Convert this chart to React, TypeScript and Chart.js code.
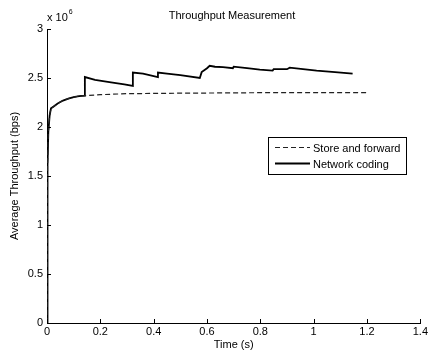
import React, { useEffect, useRef } from "react";
import { Chart, registerables } from "chart.js";

Chart.register(...registerables);

const TITLE = "Throughput Measurement";
const X_LABEL = "Time (s)";
const Y_LABEL = "Average Throughput (bps)";
const SERIES_NAMES = ["Store and forward", "Network coding"];

const NC_T = [0, 0.002, 0.005, 0.01, 0.015, 0.025, 0.04, 0.06, 0.08, 0.1, 0.12, 0.142, 0.142, 0.18, 0.24, 0.29, 0.322, 0.322, 0.36, 0.416, 0.416, 0.45, 0.5, 0.573, 0.58, 0.6, 0.61, 0.63, 0.66, 0.697, 0.7, 0.75, 0.798, 0.846, 0.85, 0.9, 0.91, 0.96, 1.011, 1.08, 1.146];
const NC_V = [0, 1.6, 1.95, 2.12, 2.19, 2.21, 2.24, 2.27, 2.29, 2.305, 2.315, 2.32, 2.51, 2.48, 2.455, 2.435, 2.42, 2.555, 2.545, 2.51, 2.555, 2.545, 2.53, 2.5, 2.56, 2.6, 2.625, 2.615, 2.61, 2.6, 2.615, 2.6, 2.585, 2.575, 2.59, 2.59, 2.605, 2.59, 2.575, 2.56, 2.545];

const SF_T = [0, 0.002, 0.005, 0.01, 0.015, 0.025, 0.04, 0.06, 0.08, 0.1, 0.12, 0.142, 0.2, 0.3, 0.5, 0.8, 1.0, 1.2];
const SF_V = [0, 1.6, 1.95, 2.12, 2.19, 2.21, 2.24, 2.27, 2.29, 2.305, 2.315, 2.32, 2.33, 2.34, 2.345, 2.35, 2.35, 2.35];

const SCALE = 1e6;
const FONT = "'Liberation Sans', Arial, sans-serif";

const toPts = (t: number[], v: number[]) => t.map((x, i) => ({ x, y: v[i] * SCALE }));

const matlabPlugin = {
  id: "matlab",
  beforeDraw(chart: any) {
    const ctx = chart.ctx;
    ctx.save();
    ctx.fillStyle = "#fff";
    ctx.fillRect(0, 0, chart.width, chart.height);
    ctx.restore();
  },
  afterDraw(chart: any) {
    const ctx = chart.ctx;
    const { left, bottom } = chart.chartArea;
    const xs = chart.scales.x;
    const ys = chart.scales.y;
    ctx.save();
    ctx.strokeStyle = "#000";
    ctx.lineWidth = 1;
    ctx.beginPath();
    xs.ticks.forEach((t: any) => {
      const px = Math.round(xs.getPixelForValue(t.value)) + 0.5;
      ctx.moveTo(px, bottom);
      ctx.lineTo(px, bottom - 4);
    });
    ys.ticks.forEach((t: any) => {
      const py = Math.round(ys.getPixelForValue(t.value)) + 0.5;
      ctx.moveTo(left, py);
      ctx.lineTo(left + 4, py);
    });
    ctx.stroke();

    // title
    ctx.fillStyle = "#000";
    ctx.font = `11px ${FONT}`;
    ctx.textAlign = "center";
    ctx.textBaseline = "middle";
    ctx.fillText(TITLE, 232, 16);

    // exponent
    ctx.textAlign = "left";
    ctx.font = `11px ${FONT}`;
    ctx.fillText("x 10", left, 18);
    const w = ctx.measureText("x 10").width;
    ctx.font = `7px ${FONT}`;
    ctx.fillText("6", left + w + 1, 12);

    // legend
    const lx = 268, ly = 137, lw = 138, lh = 37;
    ctx.fillStyle = "#fff";
    ctx.fillRect(lx, ly, lw, lh);
    ctx.strokeStyle = "#000";
    ctx.lineWidth = 1;
    ctx.strokeRect(lx + 0.5, ly + 0.5, lw, lh);
    chart.data.datasets.forEach((ds: any, i: number) => {
      const yy = ly + 10.5 + i * 16;
      ctx.save();
      ctx.strokeStyle = ds.borderColor;
      ctx.lineWidth = ds.borderWidth;
      ctx.setLineDash(ds.borderDash || []);
      ctx.beginPath();
      ctx.moveTo(lx + 7, yy);
      ctx.lineTo(lx + 42, yy);
      ctx.stroke();
      ctx.restore();
      ctx.fillStyle = "#000";
      ctx.font = `11px ${FONT}`;
      ctx.textAlign = "left";
      ctx.textBaseline = "middle";
      ctx.fillText(ds.label, lx + 45, yy + 1);
    });
    ctx.restore();
  },
};

export default function App() {
  const ref = useRef<HTMLCanvasElement>(null);
  useEffect(() => {
    if (!ref.current) return;
    const chart = new Chart(ref.current, {
      type: "line",
      data: {
        datasets: [
          {
            label: SERIES_NAMES[0],
            data: toPts(SF_T, SF_V),
            borderColor: "#222",
            borderWidth: 1.2,
            borderDash: [5, 3],
            pointRadius: 0,
            tension: 0,
          },
          {
            label: SERIES_NAMES[1],
            data: toPts(NC_T, NC_V),
            borderColor: "#000",
            borderWidth: 1.8,
            pointRadius: 0,
            tension: 0,
          },
        ],
      },
      options: {
        responsive: false,
        animation: false,
        layout: { padding: { top: 29, right: 9, left: 0, bottom: 0 } },
        plugins: {
          legend: { display: false },
          title: { display: false },
          tooltip: { enabled: false },
        },
        scales: {
          x: {
            type: "linear",
            min: 0,
            max: 1.4,
            ticks: {
              stepSize: 0.2,
              color: "#000",
              font: { family: FONT, size: 11 },
              padding: 2,
              maxRotation: 0,
              callback: (v: any) => String(Math.round(Number(v) * 10) / 10),
            },
            grid: { display: false, drawTicks: false },
            border: { display: true, color: "#000", width: 1 },
            title: { display: true, text: X_LABEL, color: "#000", font: { family: FONT, size: 11 }, padding: { top: 0, bottom: 2 } },
            afterFit: (s: any) => { s.height = 31; },
          },
          y: {
            min: 0,
            max: 3e6,
            ticks: {
              stepSize: 0.5e6,
              color: "#000",
              font: { family: FONT, size: 11 },
              padding: 4,
              callback: (v: any) => String(Number(v) / SCALE),
            },
            grid: { display: false, drawTicks: false },
            border: { display: true, color: "#000", width: 1 },
            title: { display: true, text: Y_LABEL, color: "#000", font: { family: FONT, size: 11 }, padding: { top: 8, bottom: 0 } },
            afterFit: (s: any) => { s.width = 47; },
          },
        },
      },
      plugins: [matlabPlugin],
    });
    return () => chart.destroy();
  }, []);
  return (
    <div style={{ position: "fixed", left: 0, top: 0, width: 430, height: 354, background: "#fff" }}>
      <canvas ref={ref} width={430} height={354} />
    </div>
  );
}
